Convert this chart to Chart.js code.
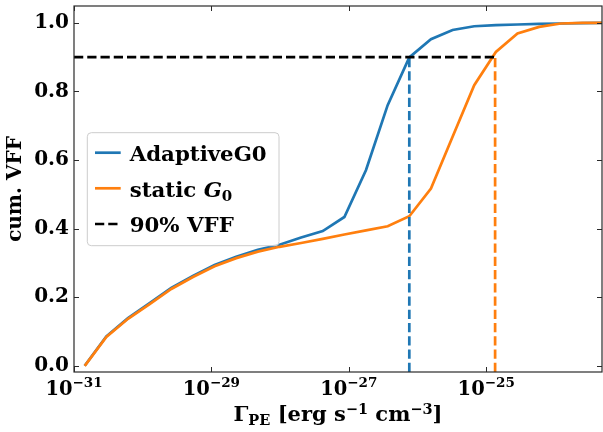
<!DOCTYPE html>
<html><head><meta charset="utf-8">
<script src="https://cdn.jsdelivr.net/npm/chart.js@4.4.1/dist/chart.umd.min.js"></script>
<style>
html,body{margin:0;padding:0;background:#fff;}
#wrap{position:relative;width:603px;height:432px;}
</style></head>
<body>
<div id="wrap"><canvas id="c" width="603" height="432"></canvas></div>
<script>
// log10 of Gamma_PE bin values
const xExp = [-30.844, -30.529, -30.214, -29.899, -29.584, -29.269, -28.954, -28.639, -28.324, -28.009,
              -27.694, -27.379, -27.064, -26.749, -26.434, -26.119, -25.804, -25.489, -25.174, -24.859,
              -24.544, -24.229, -23.914, -23.599, -23.284];
const adaptive = [0.000, 0.086, 0.139, 0.183, 0.227, 0.262, 0.294, 0.318, 0.338, 0.353,
                  0.374, 0.393, 0.434, 0.571, 0.760, 0.899, 0.952, 0.979, 0.990, 0.993,
                  0.995, 0.997, 0.998, 0.999, 1.000];
const staticG0 = [0.000, 0.084, 0.137, 0.180, 0.224, 0.259, 0.290, 0.314, 0.333, 0.347,
                  0.358, 0.370, 0.383, 0.395, 0.407, 0.436, 0.517, 0.668, 0.818, 0.915,
                  0.969, 0.988, 0.998, 1.000, 1.000];
const vffLevel = 0.9;
const vffAdaptiveExp = -26.119;
const vffStaticExp = -24.87;
const xTickExp = [-31, -29, -27, -25];
const yTicks = [0.0, 0.2, 0.4, 0.6, 0.8, 1.0];
const xMinExp = -31, xMaxExp = -23.314;
const yMin = -0.018, yMax = 1.049;
const seriesNames = ['AdaptiveG0', 'static G0', '90% VFF'];

const BLUE = '#1f77b4', ORANGE = '#ff7f0e';
const FONT = "'DejaVu Serif'";

function pts(ys){ return xExp.map((e,i)=>({x:Math.pow(10,e), y:ys[i]})); }

function drawRich(ctx, parts, cx, base, align){
  let w = 0;
  parts.forEach(p=>{ ctx.font = (p.it?'italic ':'')+'bold '+p.s+'px '+FONT; p.w = ctx.measureText(p.t).width; w += p.w; });
  let x = align==='left' ? cx : cx - w/2;
  ctx.textBaseline = 'alphabetic'; ctx.textAlign = 'left';
  parts.forEach(p=>{ ctx.font = (p.it?'italic ':'')+'bold '+p.s+'px '+FONT; ctx.fillText(p.t, x, base + (p.dy||0)); x += p.w; });
}

const deco = {
  id:'deco',
  afterDraw(chart){
    const ctx = chart.ctx, ca = chart.chartArea, xs = chart.scales.x, ys = chart.scales.y;
    ctx.save();
    ctx.strokeStyle = '#2a2a2a'; ctx.lineWidth = 1.2;
    ctx.strokeRect(ca.left, ca.top, ca.right-ca.left, ca.bottom-ca.top);
    ctx.lineWidth = 1;
    const tl = 5;
    xTickExp.forEach(e=>{
      const px = Math.round(xs.getPixelForValue(Math.pow(10,e)))+0.5;
      ctx.beginPath(); ctx.moveTo(px, ca.bottom); ctx.lineTo(px, ca.bottom-tl);
      ctx.moveTo(px, ca.top); ctx.lineTo(px, ca.top+tl); ctx.stroke();
    });
    yTicks.forEach(v=>{
      const py = Math.round(ys.getPixelForValue(v))+0.5;
      ctx.beginPath(); ctx.moveTo(ca.left, py); ctx.lineTo(ca.left+tl, py);
      ctx.moveTo(ca.right, py); ctx.lineTo(ca.right-tl, py); ctx.stroke();
    });
    ctx.fillStyle = '#000';
    // x tick labels
    xTickExp.forEach(e=>{
      const px = xs.getPixelForValue(Math.pow(10,e));
      drawRich(ctx, [{t:'10', s:19.5},{t:'\u2212'+Math.abs(e), s:13.5, dy:-8}], px, 394.5);
    });
    // x title
    drawRich(ctx, [{t:'\u0393', s:21},{t:'PE', s:14.5, dy:4},{t:' [erg s', s:21},{t:'\u22121', s:14.5, dy:-7},
                   {t:' cm', s:21},{t:'\u22123', s:14.5, dy:-7},{t:']', s:21}], (ca.left+ca.right)/2, 421);
    // legend
    const lx = 87.3, ly = 132.7, lw = 191.7, lh = 113;
    ctx.beginPath(); ctx.roundRect(lx, ly, lw, lh, 4);
    ctx.fillStyle = 'rgba(255,255,255,0.8)'; ctx.fill();
    ctx.strokeStyle = '#cccccc'; ctx.lineWidth = 1; ctx.stroke();
    const rows = [152.7, 188.3, 224];
    const cols = [BLUE, ORANGE, '#000'];
    rows.forEach((ry,i)=>{
      ctx.beginPath(); ctx.strokeStyle = cols[i]; ctx.lineWidth = 2.7;
      if(i===2) ctx.setLineDash([9.25,4]); else ctx.setLineDash([]);
      ctx.moveTo(95, ry); ctx.lineTo(120.7, ry); ctx.stroke();
    });
    ctx.setLineDash([]);
    ctx.fillStyle = '#000';
    drawRich(ctx, [{t:seriesNames[0], s:21.3}], 129.7, 160.7, 'left');
    drawRich(ctx, [{t:'static ', s:21.3},{t:'G', s:21.3, it:true},{t:'0', s:15, dy:4}], 129.7, 196.7, 'left');
    drawRich(ctx, [{t:seriesNames[2], s:21.3}], 129.7, 231.7, 'left');
    ctx.restore();
  }
};

new Chart(document.getElementById('c'), {
  type:'line',
  data:{ datasets:[
    {label:seriesNames[0], order:5, data:pts(adaptive), borderColor:BLUE, borderWidth:2.7, pointRadius:0, tension:0},
    {label:seriesNames[1], order:4, data:pts(staticG0), borderColor:ORANGE, borderWidth:2.7, pointRadius:0, tension:0},
    {label:'vA', order:3, data:[{x:Math.pow(10,vffAdaptiveExp), y:yMin},{x:Math.pow(10,vffAdaptiveExp), y:vffLevel}], borderColor:BLUE, borderWidth:2.7, borderDash:[9.25,4], pointRadius:0},
    {label:'vS', order:2, data:[{x:Math.pow(10,vffStaticExp), y:yMin},{x:Math.pow(10,vffStaticExp), y:vffLevel}], borderColor:ORANGE, borderWidth:2.7, borderDash:[9.25,4], pointRadius:0},
    {label:seriesNames[2], order:1, data:[{x:Math.pow(10,xMinExp), y:vffLevel},{x:Math.pow(10,vffStaticExp), y:vffLevel}], borderColor:'#000', borderWidth:2.7, borderDash:[9.25,4], pointRadius:0}
  ]},
  options:{
    responsive:false, animation:false, devicePixelRatio:1,
    layout:{padding:{top:6, right:1, left:0, bottom:0}},
    plugins:{legend:{display:false}, tooltip:{enabled:false}},
    scales:{
      x:{type:'logarithmic', min:Math.pow(10,xMinExp), max:Math.pow(10,xMaxExp),
         grid:{display:false}, border:{display:false}, ticks:{display:false},
         afterBuildTicks(s){ s.ticks = xTickExp.map(e=>({value:Math.pow(10,e)})); },
         afterFit(s){ s.height = 60; s.paddingLeft = 0; s.paddingRight = 0; }},
      y:{type:'linear', min:yMin, max:yMax,
         grid:{display:false, drawTicks:false}, border:{display:false},
         afterBuildTicks(s){ s.ticks = yTicks.map(v=>({value:v})); },
         ticks:{padding:5, color:'#000', font:{family:FONT, weight:'bold', size:20}, callback:v=>v.toFixed(1)},
         title:{display:true, text:'cum. VFF', color:'#000', font:{family:FONT, weight:'bold', size:20}, padding:{top:4,bottom:0}},
         afterFit(s){ s.width = 74; s.paddingTop = 0; s.paddingBottom = 0; }}
    }
  },
  plugins:[deco]
});
</script>
</body></html>
